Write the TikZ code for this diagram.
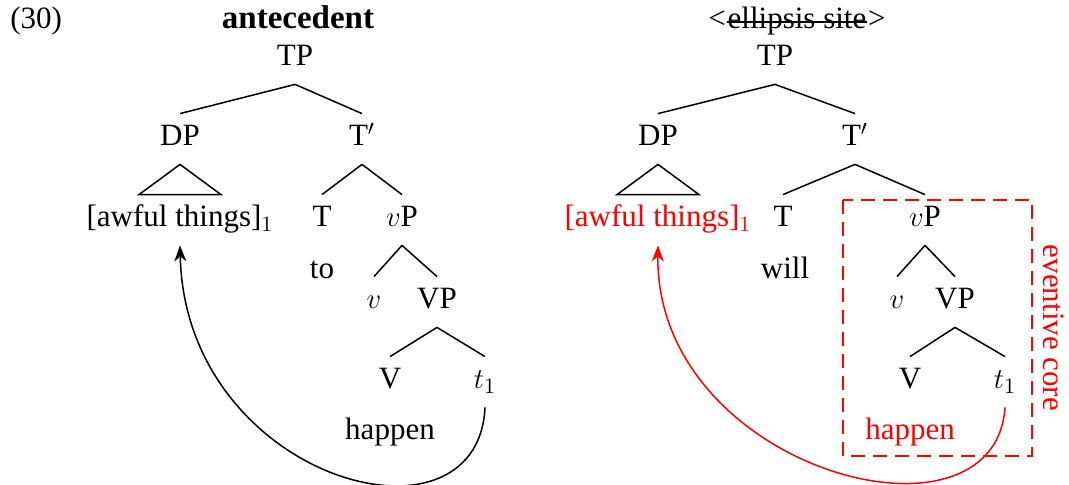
\documentclass[tikz,border=0pt]{standalone}
\usepackage{fontspec}
\setmainfont{Liberation Serif}
\usetikzlibrary{arrows.meta}
\begin{document}
\begin{tikzpicture}[x=0.5pt,y=-0.5pt,
  every node/.style={font=\fontsize{15.5}{18}\selectfont},
  tn/.style={anchor=base, inner xsep=1pt, inner ysep=6pt, text height=10pt, text depth=3pt},
  lbl/.style={anchor=base},
  br/.style={line width=0.75pt},
  mv/.style={line width=0.75pt, -{Stealth[length=8pt,width=6pt,inset=2.5pt]}},
  core/.style={red, dash pattern=on 7pt off 4pt, line width=0.9pt}
]
\useasboundingbox (0,0) rectangle (1069,485);

% headings
\node[lbl, anchor=base west, inner xsep=0pt] (num) at (10,29) {(30)};
\node[lbl, font=\fontsize{16.5}{18}\selectfont\bfseries] (ant) at (298,29) {antecedent};
\node[lbl, inner xsep=0pt] (ell) at (797,29) {ellipsis site};
\node[anchor=base east, inner xsep=0.5pt] (ellL) at (ell.base west) {<};
\node[anchor=base west, inner xsep=0.5pt] (ellR) at (ell.base east) {>};
\draw[line width=1pt] ([yshift=3.6pt]ell.base west) -- ([yshift=3.6pt]ell.base east);

% ---------- left tree ----------
\node[tn] (lTP) at (295,66) {TP};
\node[tn] (lDP) at (180,146) {DP};
\node[tn] (lTb) at (362,146) {T$'$};
\node[tn] (lAw) at (180,227) {[awful things]$_1$};
\node[tn] (lT) at (322,227) {T};
\node[tn] (lvP) at (402,227) {$v$P};
\node[tn] (lto) at (322,279) {to};
\node[tn] (lv) at (374,309) {$v$};
\node[tn] (lVP) at (437,309) {VP};
\node[tn] (lV) at (390,389) {V};
\node[tn] (lt) at (485,389) {$t_1$};
\node[tn] (lhap) at (390,439) {happen};

\draw[br] (lTP.south) -- (lDP.north);
\draw[br] (lTP.south) -- (lTb.north);
\draw[br] (lDP.south) -- ([xshift=-20.5pt]lAw.north) -- ([xshift=20.5pt]lAw.north) -- cycle;
\draw[br] (lTb.south) -- (lT.north);
\draw[br] (lTb.south) -- (lvP.north);
\draw[br] (lvP.south) -- (lv.north);
\draw[br] (lvP.south) -- (lVP.north);
\draw[br] (lVP.south) -- (lV.north);
\draw[br] (lVP.south) -- (lt.north);

\draw[mv] (lt.south) .. controls (478,560) and (185,480) .. (lAw.south);

% ---------- right tree ----------
\node[tn] (rTP) at (775,66) {TP};
\node[tn] (rDP) at (658,146) {DP};
\node[tn] (rTb) at (855,146) {T$'$};
\node[tn, red] (rAw) at (658,227) {[awful things]$_1$};
\node[tn] (rT) at (783,227) {T};
\node[tn] (rvP) at (925,227) {$v$P};
\node[tn] (rwill) at (785,279) {will};
\node[tn] (rv) at (897,309) {$v$};
\node[tn] (rVP) at (955,309) {VP};
\node[tn] (rV) at (910,389) {V};
\node[tn] (rt) at (1005,389) {$t_1$};
\node[tn, red] (rhap) at (910,439) {happen};

\draw[br] (rTP.south) -- (rDP.north);
\draw[br] (rTP.south) -- (rTb.north);
\draw[br] (rDP.south) -- ([xshift=-20.5pt]rAw.north) -- ([xshift=20.5pt]rAw.north) -- cycle;
\draw[br] (rTb.south) -- (rT.north);
\draw[br] (rTb.south) -- (rvP.north);
\draw[br] (rvP.south) -- (rv.north);
\draw[br] (rvP.south) -- (rVP.north);
\draw[br] (rVP.south) -- (rV.north);
\draw[br] (rVP.south) -- (rt.north);

\draw[core] (843,200) rectangle (1032,456);
\node[red, rotate=-90] (ec) at (1054,328) {eventive core};

\draw[mv, red] (rt.south) .. controls (995,560) and (655,470) .. (rAw.south);
\end{tikzpicture}
\end{document}
